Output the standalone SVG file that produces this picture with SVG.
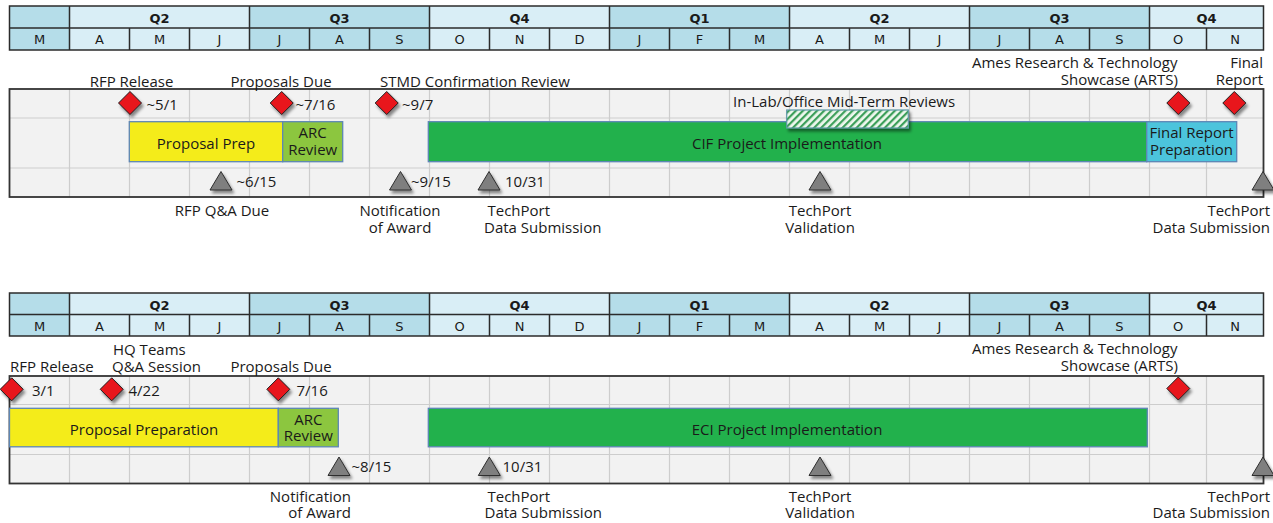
<svg xmlns="http://www.w3.org/2000/svg" width="1273" height="523" viewBox="0 0 1273 523">
<style>
.lt{fill:#d9eef6}
.dk{fill:#b5dde9}
.hb{fill:none;stroke:#2b2b2b;stroke-width:1.5}
.q{font-family:"DejaVu Sans",sans-serif;font-weight:bold;font-size:13px;fill:#1a1a1a;text-anchor:middle}
.m{font-family:"DejaVu Sans",sans-serif;font-size:13px;fill:#1a1a1a;text-anchor:middle}
.body{fill:#f2f2f2}
.grid{stroke:#cdcdcd;stroke-width:1.2;fill:none}
.frame{fill:none;stroke:#333;stroke-width:1.8}
.t{font-family:"Open Sans",sans-serif;font-size:15px;fill:#1a1a1a}
.c{text-anchor:middle}
.e{text-anchor:end}
.bar{stroke:#5d86b5;stroke-width:1.3}
.dia{fill:#e8141c;stroke:#1e1e1e;stroke-width:1}
.tri{fill:#7f7f7f;stroke:#2e2e2e;stroke-width:1}
</style>
<defs>
<filter id="sh" x="-50%" y="-50%" width="200%" height="200%">
<feDropShadow dx="2" dy="3" stdDeviation="1.6" flood-color="#000" flood-opacity="0.45"/>
</filter>
<pattern id="hatch" width="5" height="5" patternUnits="userSpaceOnUse" patternTransform="rotate(45)">
<rect width="5" height="5" fill="#eef7ee"/>
<rect width="2.2" height="5" fill="#3d9f5a"/>
</pattern>
<g id="dmd"><polygon points="0,-11.5 11.5,0 0,11.5 -11.5,0" class="dia"/></g>
<g id="trg"><polygon points="0,-9.5 11,9 -11,9" class="tri"/></g>
</defs>
<rect width="1273" height="523" fill="#fff"/>

<!-- ===== TOP CHART ===== -->
<g id="top-header">
<rect class="dk" x="9.5" y="6" width="60" height="44"/>
<rect class="lt" x="69.5" y="6" width="180" height="44"/>
<rect class="dk" x="249.5" y="6" width="180" height="44"/>
<rect class="lt" x="429.5" y="6" width="180" height="44"/>
<rect class="dk" x="609.5" y="6" width="180" height="44"/>
<rect class="lt" x="789.5" y="6" width="180" height="44"/>
<rect class="dk" x="969.5" y="6" width="180" height="44"/>
<rect class="lt" x="1149.5" y="6" width="114" height="44"/>
<path class="hb" d="M9.5 6H1263.5V50H9.5Z M9.5 28H1263.5 M69.5 6V50 M249.5 6V50 M429.5 6V50 M609.5 6V50 M789.5 6V50 M969.5 6V50 M1149.5 6V50 M129.5 28V50 M189.5 28V50 M309.5 28V50 M369.5 28V50 M489.5 28V50 M549.5 28V50 M669.5 28V50 M729.5 28V50 M849.5 28V50 M909.5 28V50 M1029.5 28V50 M1089.5 28V50 M1206.5 28V50"/>
<text class="q" x="159.5" y="23">Q2</text>
<text class="q" x="339.5" y="23">Q3</text>
<text class="q" x="519.5" y="23">Q4</text>
<text class="q" x="699.5" y="23">Q1</text>
<text class="q" x="879.5" y="23">Q2</text>
<text class="q" x="1059.5" y="23">Q3</text>
<text class="q" x="1206.5" y="23">Q4</text>
<text class="m" x="39.5" y="44">M</text>
<text class="m" x="99.5" y="44">A</text>
<text class="m" x="159.5" y="44">M</text>
<text class="m" x="219.5" y="44">J</text>
<text class="m" x="279.5" y="44">J</text>
<text class="m" x="339.5" y="44">A</text>
<text class="m" x="399.5" y="44">S</text>
<text class="m" x="459.5" y="44">O</text>
<text class="m" x="519.5" y="44">N</text>
<text class="m" x="579.5" y="44">D</text>
<text class="m" x="639.5" y="44">J</text>
<text class="m" x="699.5" y="44">F</text>
<text class="m" x="759.5" y="44">M</text>
<text class="m" x="819.5" y="44">A</text>
<text class="m" x="879.5" y="44">M</text>
<text class="m" x="939.5" y="44">J</text>
<text class="m" x="999.5" y="44">J</text>
<text class="m" x="1059.5" y="44">A</text>
<text class="m" x="1119.5" y="44">S</text>
<text class="m" x="1178" y="44">O</text>
<text class="m" x="1235" y="44">N</text>
</g>

<g id="top-grid">
<rect class="body" x="9.5" y="89" width="1254" height="108"/>
<path class="grid" d="M9.5 118H1263.5 M9.5 168H1263.5 M69.5 89V197 M129.5 89V197 M189.5 89V197 M249.5 89V197 M309.5 89V197 M369.5 89V197 M429.5 89V197 M489.5 89V197 M549.5 89V197 M609.5 89V197 M669.5 89V197 M729.5 89V197 M789.5 89V197 M849.5 89V197 M909.5 89V197 M969.5 89V197 M1029.5 89V197 M1089.5 89V197 M1149.5 89V197 M1206.5 89V197"/>
<rect class="frame" x="9.5" y="89" width="1254" height="108"/>
</g>

<g id="top-bars">
<g id="t-proposal-prep">
<rect class="bar" x="129.3" y="121.7" width="153.4" height="40" fill="#f4ec1a"/>
<text class="t c" x="206" y="148.5">Proposal Prep</text>
</g>
<g id="t-arc-review">
<rect class="bar" x="282.7" y="121.7" width="60" height="40" fill="#8cc63f"/>
<text class="t c" x="312.7" y="138">ARC</text>
<text class="t c" x="312.7" y="155">Review</text>
</g>
<g id="t-cif">
<rect class="bar" x="428.3" y="121.7" width="718.4" height="40" fill="#22b14c"/>
<text class="t c" x="787" y="149">CIF Project Implementation</text>
</g>
<g id="t-final-prep">
<rect class="bar" x="1146.7" y="121.7" width="90" height="40" fill="#4cc4dc"/>
<text class="t c" x="1191.5" y="138">Final Report</text>
<text class="t c" x="1191.5" y="155">Preparation</text>
</g>
<g id="t-midterm">
<rect x="786.7" y="110" width="121.6" height="18" fill="url(#hatch)" stroke="#5f98a8" stroke-width="1.2" filter="url(#sh)"/>
<text class="t" x="733" y="106.5">In-Lab/Office Mid-Term Reviews</text>
</g>
</g>

<g id="top-milestones">
<g id="t-rfp"><use href="#dmd" x="130" y="103" filter="url(#sh)"/><text class="t c" x="131.5" y="87">RFP Release</text><text class="t" x="146.5" y="110">~5/1</text></g>
<g id="t-propdue"><use href="#dmd" x="281.7" y="103" filter="url(#sh)"/><text class="t c" x="281" y="87">Proposals Due</text><text class="t" x="295.5" y="110">~7/16</text></g>
<g id="t-stmd"><use href="#dmd" x="386.7" y="103" filter="url(#sh)"/><text class="t" x="380" y="87">STMD Confirmation Review</text><text class="t" x="402" y="110">~9/7</text></g>
<g id="t-arts"><use href="#dmd" x="1178.3" y="103" filter="url(#sh)"/><text class="t" x="972" y="68">Ames Research &amp; Technology</text><text class="t e" x="1178" y="85">Showcase (ARTS)</text></g>
<g id="t-final"><use href="#dmd" x="1234.3" y="103" filter="url(#sh)"/><text class="t e" x="1263" y="68">Final</text><text class="t e" x="1263" y="85">Report</text></g>
<g id="t-qa"><use href="#trg" x="221" y="181" filter="url(#sh)"/><text class="t" x="236.5" y="187">~6/15</text><text class="t c" x="222" y="216">RFP Q&amp;A Due</text></g>
<g id="t-award"><use href="#trg" x="400.5" y="181" filter="url(#sh)"/><text class="t" x="411" y="187">~9/15</text><text class="t c" x="400" y="216">Notification</text><text class="t c" x="400" y="233">of Award</text></g>
<g id="t-tp1"><use href="#trg" x="489" y="181" filter="url(#sh)"/><text class="t" x="505" y="187">10/31</text><text class="t" x="487.5" y="216">TechPort</text><text class="t" x="484" y="233">Data Submission</text></g>
<g id="t-tpval"><use href="#trg" x="820" y="181" filter="url(#sh)"/><text class="t c" x="820" y="216">TechPort</text><text class="t c" x="820" y="233">Validation</text></g>
<g id="t-tp2"><use href="#trg" x="1263" y="181" filter="url(#sh)"/><text class="t e" x="1270" y="216">TechPort</text><text class="t e" x="1270" y="233">Data Submission</text></g>
</g>

<!-- ===== BOTTOM CHART ===== -->
<g id="bottom-header">
<rect class="dk" x="9.5" y="293" width="60" height="43"/>
<rect class="lt" x="69.5" y="293" width="180" height="43"/>
<rect class="dk" x="249.5" y="293" width="180" height="43"/>
<rect class="lt" x="429.5" y="293" width="180" height="43"/>
<rect class="dk" x="609.5" y="293" width="180" height="43"/>
<rect class="lt" x="789.5" y="293" width="180" height="43"/>
<rect class="dk" x="969.5" y="293" width="180" height="43"/>
<rect class="lt" x="1149.5" y="293" width="114" height="43"/>
<path class="hb" d="M9.5 293H1263.5V336H9.5Z M9.5 314.5H1263.5 M69.5 293V336 M249.5 293V336 M429.5 293V336 M609.5 293V336 M789.5 293V336 M969.5 293V336 M1149.5 293V336 M129.5 314.5V336 M189.5 314.5V336 M309.5 314.5V336 M369.5 314.5V336 M489.5 314.5V336 M549.5 314.5V336 M669.5 314.5V336 M729.5 314.5V336 M849.5 314.5V336 M909.5 314.5V336 M1029.5 314.5V336 M1089.5 314.5V336 M1206.5 314.5V336"/>
<text class="q" x="159.5" y="309.5">Q2</text>
<text class="q" x="339.5" y="309.5">Q3</text>
<text class="q" x="519.5" y="309.5">Q4</text>
<text class="q" x="699.5" y="309.5">Q1</text>
<text class="q" x="879.5" y="309.5">Q2</text>
<text class="q" x="1059.5" y="309.5">Q3</text>
<text class="q" x="1206.5" y="309.5">Q4</text>
<text class="m" x="39.5" y="330.5">M</text>
<text class="m" x="99.5" y="330.5">A</text>
<text class="m" x="159.5" y="330.5">M</text>
<text class="m" x="219.5" y="330.5">J</text>
<text class="m" x="279.5" y="330.5">J</text>
<text class="m" x="339.5" y="330.5">A</text>
<text class="m" x="399.5" y="330.5">S</text>
<text class="m" x="459.5" y="330.5">O</text>
<text class="m" x="519.5" y="330.5">N</text>
<text class="m" x="579.5" y="330.5">D</text>
<text class="m" x="639.5" y="330.5">J</text>
<text class="m" x="699.5" y="330.5">F</text>
<text class="m" x="759.5" y="330.5">M</text>
<text class="m" x="819.5" y="330.5">A</text>
<text class="m" x="879.5" y="330.5">M</text>
<text class="m" x="939.5" y="330.5">J</text>
<text class="m" x="999.5" y="330.5">J</text>
<text class="m" x="1059.5" y="330.5">A</text>
<text class="m" x="1119.5" y="330.5">S</text>
<text class="m" x="1178" y="330.5">O</text>
<text class="m" x="1235" y="330.5">N</text>
</g>

<g id="bottom-grid">
<rect class="body" x="9.5" y="376" width="1254" height="107.5"/>
<path class="grid" d="M9.5 404.5H1263.5 M9.5 454.5H1263.5 M69.5 376V483.5 M129.5 376V483.5 M189.5 376V483.5 M249.5 376V483.5 M309.5 376V483.5 M369.5 376V483.5 M429.5 376V483.5 M489.5 376V483.5 M549.5 376V483.5 M609.5 376V483.5 M669.5 376V483.5 M729.5 376V483.5 M789.5 376V483.5 M849.5 376V483.5 M909.5 376V483.5 M969.5 376V483.5 M1029.5 376V483.5 M1089.5 376V483.5 M1149.5 376V483.5 M1206.5 376V483.5"/>
<rect class="frame" x="9.5" y="376" width="1254" height="107.5"/>
</g>

<g id="bottom-bars">
<g id="b-proposal-prep">
<rect class="bar" x="9.5" y="408.3" width="268.8" height="38.5" fill="#f4ec1a"/>
<text class="t c" x="144" y="435">Proposal Preparation</text>
</g>
<g id="b-arc-review">
<rect class="bar" x="278.3" y="408.3" width="60" height="38.5" fill="#8cc63f"/>
<text class="t c" x="308.3" y="425">ARC</text>
<text class="t c" x="308.3" y="441">Review</text>
</g>
<g id="b-eci">
<rect class="bar" x="428.3" y="408.3" width="719" height="38.5" fill="#22b14c"/>
<text class="t c" x="787" y="434.5">ECI Project Implementation</text>
</g>
</g>

<g id="bottom-milestones">
<g id="b-rfp"><use href="#dmd" x="11.7" y="389.3" filter="url(#sh)"/><text class="t" x="10" y="372">RFP Release</text><text class="t" x="32" y="395.5">3/1</text></g>
<g id="b-hq"><use href="#dmd" x="111.7" y="389.3" filter="url(#sh)"/><text class="t" x="113" y="355">HQ Teams</text><text class="t" x="112" y="372">Q&amp;A Session</text><text class="t" x="128.5" y="395.5">4/22</text></g>
<g id="b-propdue"><use href="#dmd" x="278.3" y="389.3" filter="url(#sh)"/><text class="t c" x="281" y="372">Proposals Due</text><text class="t" x="296.5" y="395.5">7/16</text></g>
<g id="b-arts"><use href="#dmd" x="1178.3" y="388.5" filter="url(#sh)"/><text class="t" x="972" y="354">Ames Research &amp; Technology</text><text class="t e" x="1178" y="371">Showcase (ARTS)</text></g>
<g id="b-award"><use href="#trg" x="339" y="466.5" filter="url(#sh)"/><text class="t" x="351.5" y="472">~8/15</text><text class="t e" x="351" y="501.5">Notification</text><text class="t e" x="351" y="518">of Award</text></g>
<g id="b-tp1"><use href="#trg" x="489.3" y="466.5" filter="url(#sh)"/><text class="t" x="502.5" y="472">10/31</text><text class="t" x="487.5" y="501.5">TechPort</text><text class="t" x="484.5" y="518">Data Submission</text></g>
<g id="b-tpval"><use href="#trg" x="820" y="466.5" filter="url(#sh)"/><text class="t c" x="820" y="501.5">TechPort</text><text class="t c" x="820" y="518">Validation</text></g>
<g id="b-tp2"><use href="#trg" x="1263" y="466.5" filter="url(#sh)"/><text class="t e" x="1270" y="501.5">TechPort</text><text class="t e" x="1270" y="518">Data Submission</text></g>
</g>

<g id="connectors"></g>
</svg>
